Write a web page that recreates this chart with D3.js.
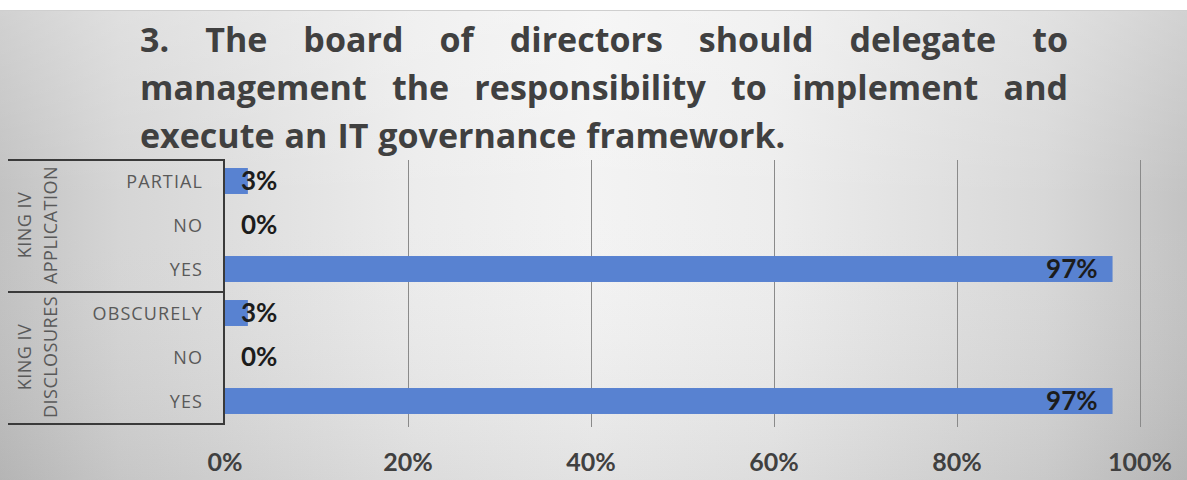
<!DOCTYPE html>
<html>
<head>
<meta charset="utf-8">
<script src="https://cdn.jsdelivr.net/npm/d3@7"></script>
<style>
  html, body { margin: 0; padding: 0; background: #fff; }
  svg { display: block; }
</style>
</head>
<body>
<div id="chart"></div>
<script>
// Data
const titleLines = [
  "3. The board of directors should delegate to",
  "management the responsibility to implement and",
  "execute an IT governance framework."
];
const groups = ["KING IV APPLICATION", "KING IV DISCLOSURES"];
const groupLines = [["KING IV", "APPLICATION"], ["KING IV", "DISCLOSURES"]];
const categories = ["PARTIAL", "NO", "YES", "OBSCURELY", "NO", "YES"];
const categoryGroup = [0, 0, 0, 1, 1, 1];
const values = [0.025, 0, 0.97, 0.025, 0, 0.97];
const ticks = [0, 0.2, 0.4, 0.6, 0.8, 1];

const width = 1187;
const height = 480;
const textFont = "'Open Sans', Lato, sans-serif";
const numFont = "Lato, 'Open Sans', sans-serif";

const svg = d3
  .select("#chart")
  .append("svg")
  .attr("width", width)
  .attr("height", height);

// background gradients
const defs = svg.append("defs");
const bg = defs.append("linearGradient").attr("id", "bg");
[
  [0, "#c2c2c2"],
  [0.1, "#d5d5d5"],
  [0.35, "#ececec"],
  [0.5, "#f3f3f3"],
  [0.65, "#ededed"],
  [0.88, "#d8d8d8"],
  [1, "#c3c3c3"]
].forEach(s => bg.append("stop").attr("offset", s[0]).attr("stop-color", s[1]));

const shade = defs
  .append("linearGradient")
  .attr("id", "shade")
  .attr("x1", 0).attr("y1", 0).attr("x2", 0).attr("y2", 1);
shade.append("stop").attr("offset", 0).attr("stop-color", "#fff").attr("stop-opacity", 0.25);
shade.append("stop").attr("offset", 0.4).attr("stop-color", "#fff").attr("stop-opacity", 0);
shade.append("stop").attr("offset", 1).attr("stop-color", "#000").attr("stop-opacity", 0.07);

svg.append("rect").attr("x", 0).attr("y", 10).attr("width", width).attr("height", height - 10).attr("fill", "url(#bg)");
svg.append("rect").attr("x", 0).attr("y", 10).attr("width", width).attr("height", height - 10).attr("fill", "url(#shade)");
svg.append("line").attr("x1", 0).attr("x2", width).attr("y1", 10.5).attr("y2", 10.5).attr("stroke", "#cfcfcf");

// scales
const x = d3.scaleLinear().domain([0, 1]).range([225, 1140]);
const rows = d3.range(categories.length);
const y = d3
  .scaleBand()
  .domain(rows)
  .range([159, 423])
  .paddingInner(0.41)
  .paddingOuter(0.205);

// gridlines
svg
  .append("g")
  .selectAll("line")
  .data(ticks.slice(1))
  .enter()
  .append("line")
  .attr("x1", d => Math.round(x(d)) + 0.5)
  .attr("x2", d => Math.round(x(d)) + 0.5)
  .attr("y1", 160)
  .attr("y2", 427)
  .attr("stroke", "#8a8a8a")
  .attr("stroke-width", 1);

// bars
svg
  .append("g")
  .selectAll("rect")
  .data(rows)
  .enter()
  .append("rect")
  .attr("x", x(0))
  .attr("y", i => y(i))
  .attr("width", i => x(values[i]) - x(0))
  .attr("height", y.bandwidth())
  .attr("fill", "#5882d1");

// value labels
const fmt = d3.format(".0%");
svg
  .append("g")
  .selectAll("text")
  .data(rows)
  .enter()
  .append("text")
  .attr("x", i => (values[i] > 0.1 ? x(values[i]) - 15 : x(0) + 16))
  .attr("y", i => y(i) + y.bandwidth() / 2 + 9)
  .attr("text-anchor", i => (values[i] > 0.1 ? "end" : "start"))
  .style("font-family", numFont)
  .style("font-weight", "bold")
  .style("font-size", "26px")
  .style("fill", "#1c1c1c")
  .text(i => fmt(values[i]));

// axis tick labels
svg
  .append("g")
  .selectAll("text")
  .data(ticks)
  .enter()
  .append("text")
  .attr("x", d => x(d))
  .attr("y", 471)
  .attr("text-anchor", "middle")
  .style("font-family", numFont)
  .style("font-weight", "bold")
  .style("font-size", "25px")
  .style("fill", "#404040")
  .text(d => fmt(d));

// category table
const table = svg.append("g");
const groupEdges = [159, 291, 423];
groupEdges.forEach(gy => {
  table
    .append("line")
    .attr("x1", 8)
    .attr("x2", 225)
    .attr("y1", gy + 1)
    .attr("y2", gy + 1)
    .attr("stroke", "#3a3a3a")
    .attr("stroke-width", 2);
});
table
  .append("line")
  .attr("x1", 224)
  .attr("x2", 224)
  .attr("y1", 159)
  .attr("y2", 425)
  .attr("stroke", "#3a3a3a")
  .attr("stroke-width", 2);

table
  .selectAll("text.cat")
  .data(rows)
  .enter()
  .append("text")
  .attr("class", "cat")
  .attr("x", 203)
  .attr("y", i => y(i) + y.bandwidth() / 2 + 6.5)
  .attr("text-anchor", "end")
  .style("font-family", textFont)
  .style("font-size", "18px")
  .style("letter-spacing", "1.1px")
  .style("fill", "#595959")
  .text(i => categories[i]);

groups.forEach((g, gi) => {
  const idx = rows.filter(i => categoryGroup[i] === gi);
  const cy = (y(idx[0]) + y(idx[idx.length - 1]) + y.bandwidth()) / 2;
  groupLines[gi].forEach((line, li) => {
    table
      .append("text")
      .attr("transform", "translate(" + (31 + li * 26) + "," + cy + ") rotate(-90)")
      .attr("text-anchor", "middle")
      .style("font-family", textFont)
      .style("font-size", "18px")
      .style("letter-spacing", "0.5px")
      .style("fill", "#595959")
      .text(line);
  });
});

// title, justified on the first two lines
const title = svg.append("g");
const titleLeft = 140;
const titleRight = 1068;
titleLines.forEach((line, li) => {
  const words = line.split(" ");
  const ty = 52 + li * 48;
  const nodes = words.map(w =>
    title
      .append("text")
      .attr("y", ty)
      .style("font-family", textFont)
      .style("font-weight", "bold")
      .style("font-size", "34px")
      .style("fill", "#404040")
      .text(w)
  );
  const widths = nodes.map(n => n.node().getComputedTextLength());
  const total = d3.sum(widths);
  const justify = li < titleLines.length - 1;
  const gap = justify ? (titleRight - titleLeft - total) / (words.length - 1) : 10;
  let cx = titleLeft;
  nodes.forEach((n, k) => {
    n.attr("x", cx);
    cx += widths[k] + gap;
  });
});
</script>
</body>
</html>
